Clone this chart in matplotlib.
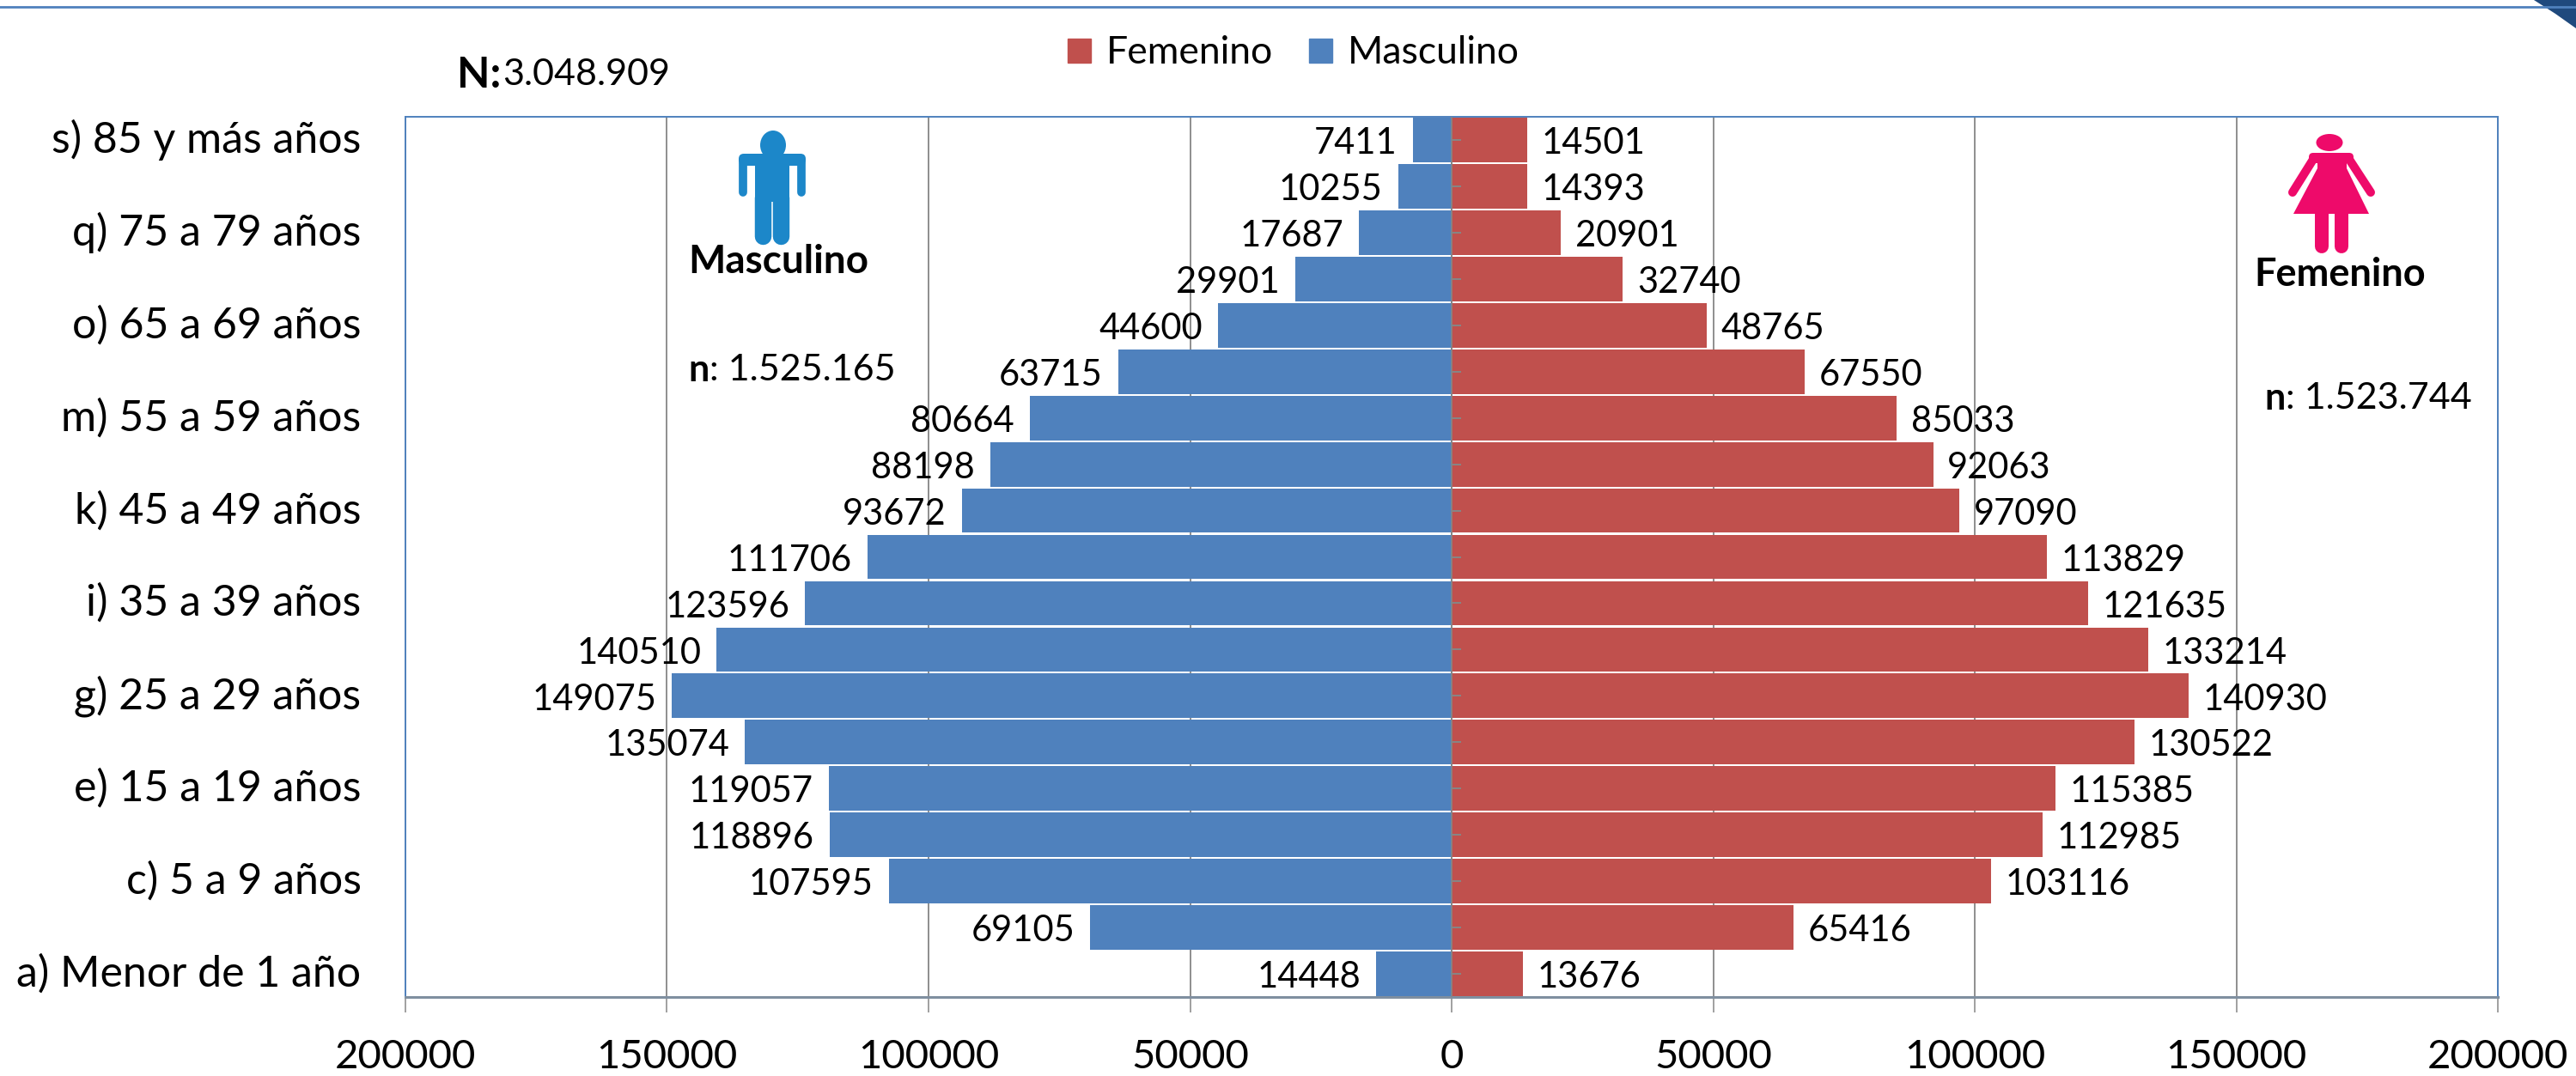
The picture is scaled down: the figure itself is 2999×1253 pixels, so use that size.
import matplotlib
matplotlib.use('Agg')
import matplotlib.pyplot as plt
from matplotlib.markers import TICKRIGHT
from matplotlib.patches import Ellipse, Polygon, FancyBboxPatch, Patch
from matplotlib.lines import Line2D
from matplotlib.transforms import ScaledTranslation

plt.rcParams['font.family'] = ['Lato', 'DejaVu Sans']

W, H = 2999, 1253
BLUE = '#4F81BD'
RED = '#C0504D'
GRAY = '#868686'

categories = ['a) Menor de 1 año', 'b) 1 a 4 años', 'c) 5 a 9 años', 'd) 10 a 14 años', 'e) 15 a 19 años',
              'f) 20 a 24 años', 'g) 25 a 29 años', 'h) 30 a 34 años', 'i) 35 a 39 años', 'j) 40 a 44 años',
              'k) 45 a 49 años', 'l) 50 a 54 años', 'm) 55 a 59 años', 'n) 60 a 64 años', 'o) 65 a 69 años',
              'p) 70 a 74 años', 'q) 75 a 79 años', 'r) 80 a 84 años', 's) 85 y más años']
masculino = [14448, 69105, 107595, 118896, 119057, 135074, 149075, 140510, 123596, 111706,
             93672, 88198, 80664, 63715, 44600, 29901, 17687, 10255, 7411]
femenino = [13676, 65416, 103116, 112985, 115385, 130522, 140930, 133214, 121635, 113829,
            97090, 92063, 85033, 67550, 48765, 32740, 20901, 14393, 14501]
x_ticks = [-200000, -150000, -100000, -50000, 0, 50000, 100000, 150000, 200000]
x_labels = ['200000', '150000', '100000', '50000', '0', '50000', '100000', '150000', '200000']

fig = plt.figure(figsize=(W / 100, H / 100), dpi=100)
ax = fig.add_axes([472 / W, (H - 1161) / H, (2908 - 472) / W, (1161 - 136) / H])

# pyramid
y = list(range(len(categories)))
ax.barh(y, [-v for v in masculino], height=0.96, color=BLUE, zorder=3)
ax.barh(y, femenino, height=0.96, color=RED, zorder=3)
for i in y:
    ax.annotate(str(masculino[i]), (-masculino[i], i), xytext=(-13, -3), textcoords='offset points',
                ha='right', va='center', fontsize=30, zorder=5)
    ax.annotate(str(femenino[i]), (femenino[i], i), xytext=(12, -3), textcoords='offset points',
                ha='left', va='center', fontsize=30, zorder=5)

# zero axis with its little ticks, above the bars
ax.axvline(0, color=GRAY, lw=1.2, zorder=4)
ax.plot([0] * len(y), y, ls='none', marker=TICKRIGHT, ms=8, mew=1.4, color=GRAY, zorder=4)

ax.set_xlim(-200000, 200000)
ax.set_ylim(-0.5, 18.5)
ax.set_xticks(x_ticks)
ax.set_xticklabels(x_labels, fontsize=34)
ax.set_yticks(y[::2])
ax.set_yticklabels(categories[::2], fontsize=36)
ax.tick_params(axis='y', length=0, pad=37)
ax.tick_params(axis='x', length=13, width=1.1, color=GRAY, pad=22)
# category labels sit a little above the bar centres
for lab in ax.get_yticklabels():
    lab.set_transform(lab.get_transform() + ScaledTranslation(0, 3 / 72, fig.dpi_scale_trans))
ax.grid(axis='x', color=GRAY, lw=1.3, zorder=1)
ax.set_axisbelow(True)
for s in ['left', 'right', 'top']:
    ax.spines[s].set_color(BLUE)
    ax.spines[s].set_linewidth(1.4)
ax.spines['bottom'].set_color('#7F8FA0')
ax.spines['bottom'].set_linewidth(2.2)

leg = [Patch(color=RED, label='Femenino'), Patch(color=BLUE, label='Masculino')]
fig.legend(handles=leg, ncol=2, frameon=False, fontsize=32, loc='center', bbox_to_anchor=(1506 / W, 1 - 62 / H),
           handlelength=0.6, handleheight=0.6, handletextpad=0.4, columnspacing=0.95)

# overlay in pixel coordinates for the decoration
ov = fig.add_axes([0, 0, 1, 1], zorder=5)
ov.set_xlim(0, W)
ov.set_ylim(H, 0)
ov.axis('off')
ov.patch.set_alpha(0)

ov.add_line(Line2D([0, W], [8, 8], color=BLUE, lw=2))
ov.add_patch(Polygon([(2950, 0), (W, 0), (W, 33), (2975, 16)], color='#1F497D', lw=0))

ov.text(532, 87, 'N:', fontsize=36, fontweight='bold', va='center', ha='left')
ov.text(585, 87, '3.048.909', fontsize=31, va='center', ha='left')
ov.text(801, 305, 'Masculino', fontsize=33, fontweight='bold', va='center', ha='left')
ov.text(801, 431, 'n', fontsize=31, fontweight='bold', va='center', ha='left')
ov.text(826, 431, ': 1.525.165', fontsize=31, va='center', ha='left')
ov.text(2624, 320, 'Femenino', fontsize=32.5, fontweight='bold', va='center', ha='left')
ov.text(2636, 464, 'n', fontsize=31, fontweight='bold', va='center', ha='left')
ov.text(2661, 464, ': 1.523.744', fontsize=31, va='center', ha='left')

# man icon
MAN = '#1C87C9'
ov.add_patch(Ellipse((900, 169), 30, 34, color=MAN, lw=0))
ov.add_patch(FancyBboxPatch((866, 185), 66, 2, boxstyle='round,pad=6', color=MAN, lw=0))
ov.add_patch(Polygon([(879, 185), (919, 185), (919, 235), (879, 235)], color=MAN, lw=0))
ov.add_line(Line2D([865, 865], [190, 224], color=MAN, lw=7, solid_capstyle='round'))
ov.add_line(Line2D([933, 933], [190, 224], color=MAN, lw=7, solid_capstyle='round'))
ov.add_line(Line2D([888.5, 888.5], [230, 275], color=MAN, lw=14, solid_capstyle='round'))
ov.add_line(Line2D([909.5, 909.5], [230, 275], color=MAN, lw=14, solid_capstyle='round'))

# woman icon
WOMAN = '#EE0A6A'
ov.add_patch(Ellipse((2712, 166), 31, 20, color=WOMAN, lw=0))
ov.add_patch(Polygon([(2698, 178), (2732, 178), (2732, 196), (2758, 249), (2670, 249), (2698, 196)], color=WOMAN, lw=0))
ov.add_patch(FancyBboxPatch((2693, 183), 42, 2, boxstyle='round,pad=5', color=WOMAN, lw=0))
ov.add_line(Line2D([2694, 2669], [184, 224], color=WOMAN, lw=7.2, solid_capstyle='round'))
ov.add_line(Line2D([2734, 2760], [184, 224], color=WOMAN, lw=7.2, solid_capstyle='round'))
ov.add_line(Line2D([2703, 2703], [245, 287], color=WOMAN, lw=11.5, solid_capstyle='round'))
ov.add_line(Line2D([2726, 2726], [245, 287], color=WOMAN, lw=11.5, solid_capstyle='round'))

fig.savefig('out.png', dpi=100, facecolor='white')
